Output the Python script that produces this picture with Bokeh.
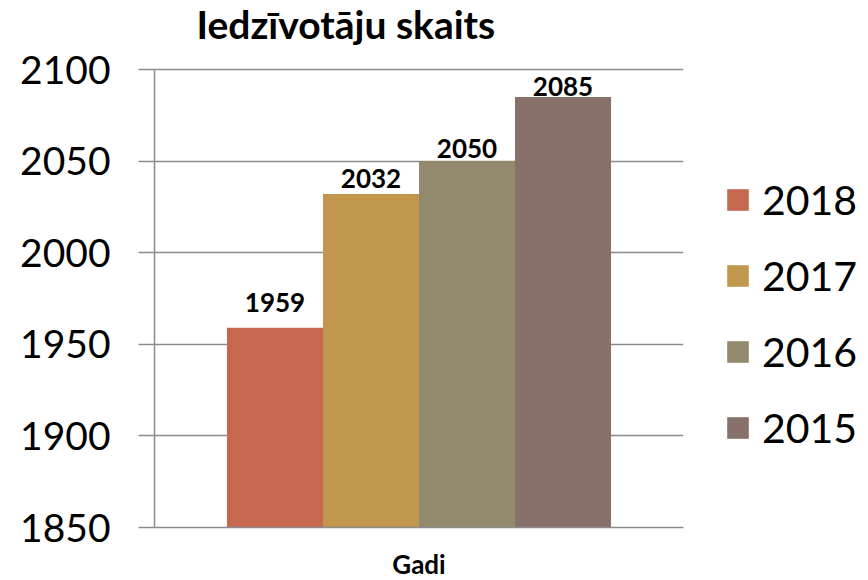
from bokeh.plotting import figure
from bokeh.models import ColumnDataSource, LabelSet, Label, Legend, LegendItem, SingleIntervalTicker, FactorRange, Range1d
from bokeh.core.properties import value
from bokeh.transform import dodge
from bokeh.embed import file_html
from bokeh.resources import INLINE

title_text = "Iedzīvotāju skaits"
group = ["Gadi"]
series = ["2018", "2017", "2016", "2015"]
values = [1959, 2032, 2050, 2085]
colors = ["#C6684F", "#C0974D", "#938A6D", "#88706B"]
y_min, y_max, y_step = 1850, 2100, 50

bar_w = 0.1815
offsets = [-1.5 * bar_w, -0.5 * bar_w, 0.5 * bar_w, 1.5 * bar_w]
label_lift = [16, 6, 3, 1]

FONT = "Lato"
GRID = "#8C8C8C"

axis_px = 458          # pixel height of the 1850..2100 span
frame_h = 525          # frame extends above the axis to hold the title
y_top = y_min + (y_max - y_min) * frame_h / axis_px

p = figure(frame_width=529, frame_height=frame_h, x_range=FactorRange(*group, range_padding=0),
           y_range=Range1d(y_min, y_top), output_backend="svg", toolbar_location=None,
           min_border_left=154, min_border_right=180, min_border_top=2, min_border_bottom=50)

title = Label(x=42, y=504, x_units="screen", y_units="screen", text=title_text,
              text_font=FONT, text_font_size="39px", text_font_style="bold",
              text_baseline="alphabetic", text_align="left", text_color="black")
p.add_layout(title)

items = []
for s, v, c, off, lift in zip(series, values, colors, offsets, label_lift):
    src = ColumnDataSource(dict(g=group, v=[v], lab=[str(v)]))
    r = p.vbar(x=dodge("g", off, range=p.x_range), top="v", bottom=y_min, width=bar_w,
               source=src, fill_color=c, line_color=None)
    lbl = LabelSet(x=dodge("g", off, range=p.x_range), y="v", text="lab", source=src,
                   text_align="center", text_baseline="bottom", y_offset=lift,
                   text_font=value(FONT), text_font_style="bold", text_font_size="26px",
                   text_color="black")
    p.add_layout(lbl)
    items.append(LegendItem(label=s, renderers=[r]))

legend = Legend(items=items, location=(41, 75), glyph_width=27, glyph_height=27,
                label_text_font=FONT, label_text_font_size="41px", label_text_color="black",
                label_standoff=11, spacing=27, border_line_color=None,
                background_fill_alpha=0, padding=0, margin=0)
p.add_layout(legend, "right")

p.yaxis.ticker = SingleIntervalTicker(interval=y_step)
p.yaxis.bounds = (y_min, y_max)
p.yaxis.major_label_text_font = FONT
p.yaxis.major_label_text_font_size = "39px"
p.yaxis.major_label_text_color = "black"
p.yaxis.axis_line_color = GRID
p.yaxis.axis_line_width = 1.5
p.yaxis.major_tick_line_color = GRID
p.yaxis.major_tick_line_width = 1.5
p.yaxis.major_tick_out = 16
p.yaxis.major_tick_in = 0
p.yaxis.minor_tick_line_color = None
p.yaxis.major_label_standoff = 28

p.xaxis.major_label_text_font = FONT
p.xaxis.major_label_text_font_style = "bold"
p.xaxis.major_label_text_font_size = "26px"
p.xaxis.major_label_text_color = "black"
p.xaxis.major_label_standoff = 14
p.xaxis.axis_line_color = GRID
p.xaxis.axis_line_width = 1.5
p.xaxis.major_tick_line_color = None

p.xgrid.grid_line_color = None
p.ygrid.grid_line_color = GRID
p.ygrid.grid_line_width = 1.5
p.ygrid.bounds = (y_min, y_max)
p.outline_line_color = None

open("out.html", "w").write(file_html(p, INLINE))
